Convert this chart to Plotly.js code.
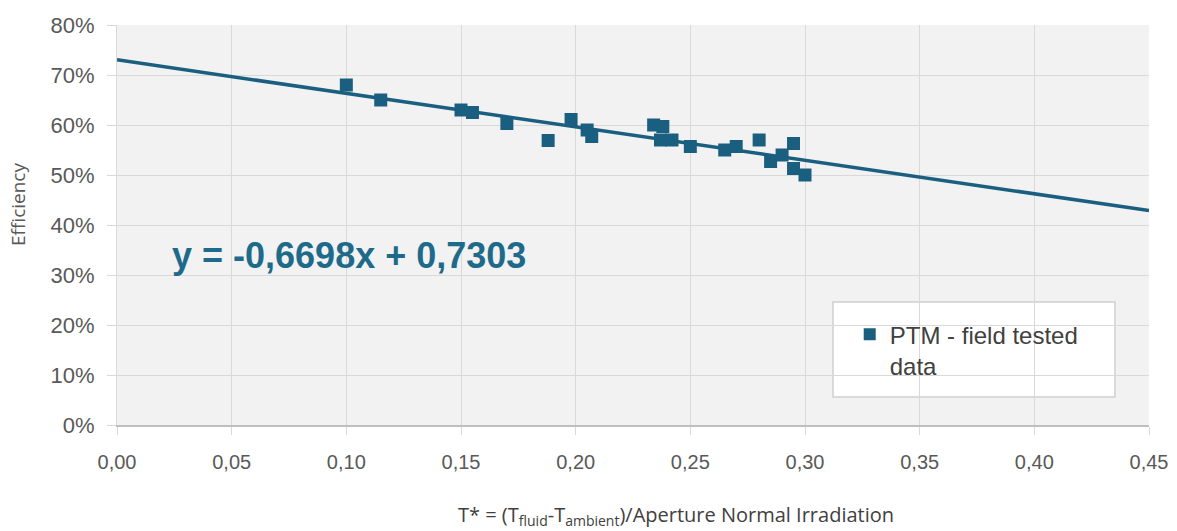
<!DOCTYPE html>
<html>
<head>
<meta charset="utf-8">
<script src="https://cdn.plot.ly/plotly-3.0.1.min.js"></script>
<style>html,body{margin:0;padding:0;background:#fff;}#chart{width:1177px;height:531px;}</style>
</head>
<body>
<div id="chart"></div>
<script>
// Measured points (T*, efficiency)
const tStar = [0.100, 0.115, 0.150, 0.155, 0.170, 0.188, 0.198, 0.205, 0.207, 0.234, 0.238, 0.237, 0.242, 0.250, 0.265, 0.270, 0.280, 0.285, 0.290, 0.295, 0.295, 0.300];
const efficiency = [0.680, 0.650, 0.630, 0.625, 0.603, 0.569, 0.611, 0.590, 0.577, 0.600, 0.597, 0.570, 0.570, 0.557, 0.550, 0.557, 0.570, 0.527, 0.540, 0.563, 0.513, 0.500];
// Linear trendline coefficients
const slope = -0.6698;
const intercept = 0.7303;
const trendX = [0, 0.45];
const trendY = trendX.map(x => slope * x + intercept);
const xTicks = [0, 0.05, 0.10, 0.15, 0.20, 0.25, 0.30, 0.35, 0.40, 0.45];
const xTickLabels = ['0,00','0,05','0,10','0,15','0,20','0,25','0,30','0,35','0,40','0,45'];
const yTicks = [0, 0.1, 0.2, 0.3, 0.4, 0.5, 0.6, 0.7, 0.8];
const yTickLabels = ['0%','10%','20%','30%','40%','50%','60%','70%','80%'];
const seriesName = 'PTM - field tested<br>data';
const eqText = 'y = -0,6698x + 0,7303';
const yTitle = 'Efficiency';
const xTitle = 'T* = (T<sub>fluid</sub>-T<sub>ambient</sub>)/Aperture Normal Irradiation';

const col = '#1a5f7f';
const traces = [
  {x: trendX, y: trendY, mode: 'lines', line: {color: col, width: 3.5}, showlegend: false, hoverinfo: 'skip'},
  {x: tStar, y: efficiency, mode: 'markers', name: seriesName,
   marker: {symbol: 'square', size: 13, color: col}}
];
const layout = {
  width: 1177, height: 531,
  margin: {l: 117, r: 28, t: 25, b: 106},
  paper_bgcolor: '#ffffff',
  plot_bgcolor: '#f2f2f2',
  font: {family: 'Liberation Sans, Arial, sans-serif', color: '#595959'},
  xaxis: {range: [0, 0.45], tickvals: xTicks, ticktext: xTickLabels,
    showgrid: true, gridcolor: '#d9d9d9', gridwidth: 1,
    zeroline: false, showline: true, linecolor: '#bfbfbf', linewidth: 1.5,
    ticks: 'outside', ticklen: 8, tickcolor: '#d9d9d9', ticklabelstandoff: 10,
    tickfont: {size: 20, color: '#595959'}},
  yaxis: {range: [0, 0.8], tickvals: yTicks, ticktext: yTickLabels,
    showgrid: true, gridcolor: '#d9d9d9', gridwidth: 1,
    zeroline: false, showline: true, linecolor: '#d9d9d9', linewidth: 1,
    ticks: 'outside', ticklen: 9, tickcolor: '#d9d9d9', ticklabelstandoff: 8,
    tickfont: {size: 22, color: '#595959'}},
  showlegend: true,
  legend: {x: 0.71, y: 0.282, xanchor: 'left', yanchor: 'top', bgcolor: 'rgba(0,0,0,0)',
    font: {size: 24, color: '#404040'}, itemsizing: 'constant', valign: 'top'},
  shapes: [
    {type: 'rect', xref: 'paper', yref: 'paper', x0: 0.6938, x1: 0.967, y0: 0.07, y1: 0.3075,
     fillcolor: '#ffffff', line: {color: '#d0d0d0', width: 1.5}, layer: 'below'}
  ],
  annotations: [
    {x: 0.0231, y: 0.34, xref: 'x', yref: 'y', xanchor: 'left', yanchor: 'middle', showarrow: false,
     text: '<b>' + eqText + '</b>', font: {size: 36, color: '#1e6a8a'}},
    {x: 0, y: 0.55, xref: 'paper', yref: 'paper', xshift: -99, xanchor: 'center', yanchor: 'middle', showarrow: false,
     textangle: -90, text: yTitle, font: {size: 19, color: '#595959', family: 'Open Sans, sans-serif'}},
    {x: (676 - 117) / 1032, y: 0, xref: 'paper', yref: 'paper', yshift: -90, xanchor: 'center', yanchor: 'middle', showarrow: false,
     text: xTitle, font: {size: 20, color: '#404040', family: 'Open Sans, sans-serif'}}
  ]
};
Plotly.newPlot('chart', traces, layout, {displayModeBar: false, staticPlot: true});
</script>
</body>
</html>
